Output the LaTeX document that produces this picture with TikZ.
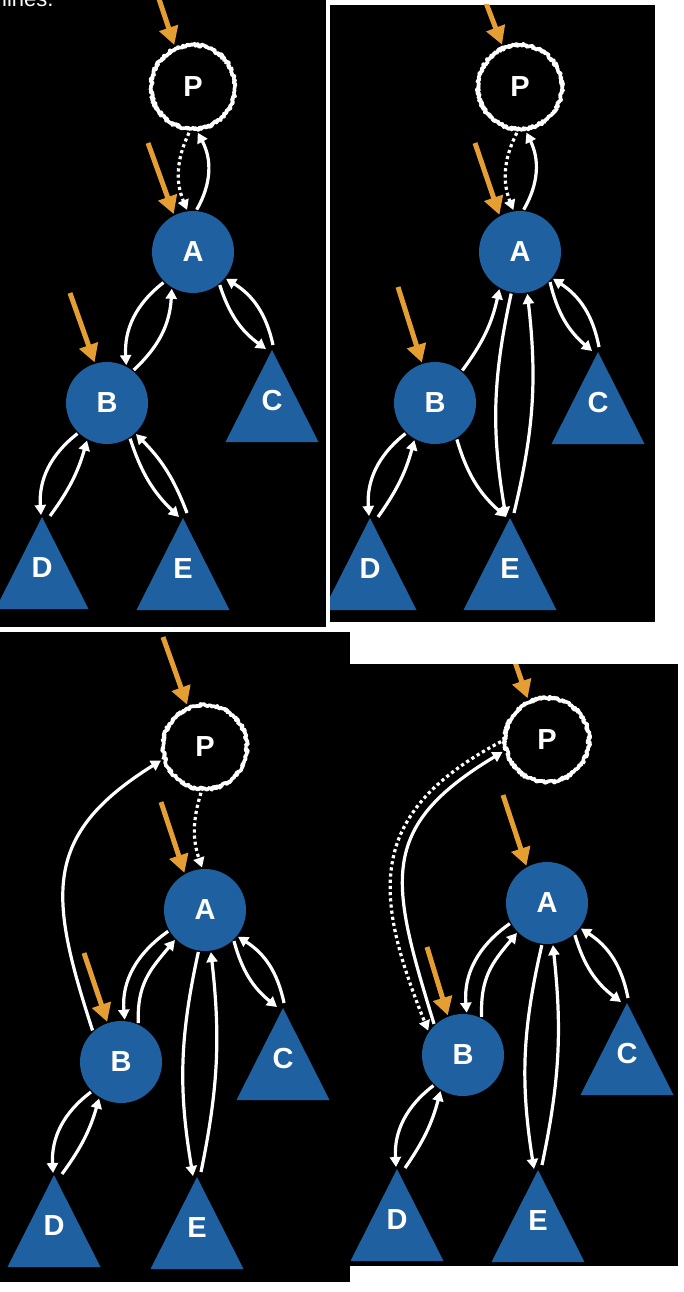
\documentclass[tikz,border=0pt]{standalone}
\usepackage{fontspec}
\usetikzlibrary{arrows.meta,decorations.pathmorphing}
\newfontfamily\labelsans{Liberation Sans}
\definecolor{nodeblue}{RGB}{31,96,160}
\definecolor{pointerorange}{RGB}{228,158,50}
% subtree triangle: name, apex x, apex y (downwards), label,
% entry point offset (dx,dy) and exit point offset (dx,dy) from the apex
\newcommand\treetri[8]{%
  \fill[nodeblue] (#2,-#3) -- ++(-46.5,-92) -- ++(93,0) -- cycle;
  \coordinate (#1in) at ({#2+(#5)},{-#3+(#6)});
  \coordinate (#1out) at ({#2+(#7)},{-#3+(#8)});
  \node[lbl] (#1) at (#2,{-#3-51}) {#4};
}
\begin{document}
\begin{tikzpicture}[x=1pt,y=1pt,
  labelfont/.style={font=\labelsans\bfseries\fontsize{29}{29}\selectfont},
  blueball/.style={circle, fill=nodeblue, minimum size=82pt, inner sep=0pt,
    outer sep=1.5pt, text=white, labelfont},
  pnode/.style={circle, minimum size=84pt, inner sep=0pt, outer sep=4pt,
    text=white, labelfont},
  roughring/.style={draw=white, line width=3.6pt, line join=round,
    decorate, decoration={random steps, segment length=1pt, amplitude=1.4pt}},
  lbl/.style={text=white, inner sep=0pt, labelfont},
  caption/.style={text=white, inner sep=0pt, font=\labelsans\fontsize{22}{22}\selectfont},
  link/.style={draw=white, line width=3.2pt, -{Triangle[length=10pt,width=11pt]}},
  dotlink/.style={link, dash pattern=on 3.2pt off 3pt},
  pointer/.style={draw=pointerorange, line width=5pt,
    -{Triangle[length=18pt,width=19pt]}},
]
\pgfmathsetseed{7}
\useasboundingbox (0,0) rectangle (684,-1292);
\fill[white] (0,0) rectangle (684,-1292);

% ---------- first state ----------
\begin{scope}
  \clip (0,0) rectangle (326,-627);
  \fill[black] (0,0) rectangle (326,-627);
  \node[caption, anchor=base west] (note) at (2,-7) {lines.};
  \node[pnode] (P1) at (193,-87) {P};
  \draw[roughring] (P1.center) circle[radius=42];
  \node[blueball] (A1) at (193,-252) {A};
  \node[blueball] (B1) at (107,-403) {B};
  \treetri{C1}{272}{350}{C}{-6}{1}{1}{5}
  \treetri{D1}{42}{517}{D}{-1}{2}{8}{1}
  \treetri{E1}{183}{518}{E}{-4}{1}{4}{5}
  \draw[dotlink] (P1.-95) to[bend right=24] (A1.98);
  \draw[link] (A1.85) to[bend right=29] (P1.-84);
  \draw[link] (A1.-134) to[bend right=28] (B1.63);
  \draw[link] (B1.51) to[bend right=22] (A1.-120);
  \draw[link] (A1.-51) to[bend right=18] (C1in);
  \draw[link] (C1out) to[bend right=23] (A1.-39);
  \draw[link] (B1.-134) to[bend right=28] (D1in);
  \draw[link] (D1out) to[bend right=10] (B1.-118);
  \draw[link] (B1.-57) to[bend right=14] (E1in);
  \draw[link] (E1out) to[bend right=12] (B1.-47);
  \coordinate (t1P) at (156,10);
  \coordinate (t1A) at (148,-143);
  \coordinate (t1B) at (70,-293);
  \draw[pointer] (t1P) -- (P1.114);
  \draw[pointer] (t1A) -- (A1.117);
  \draw[pointer] (t1B) -- (B1.107);
\end{scope}

% ---------- second state ----------
\begin{scope}
  \clip (330,-5) rectangle (655,-622);
  \fill[black] (330,-5) rectangle (655,-622);
  \node[pnode] (P2) at (520,-87) {P};
  \draw[roughring] (P2.center) circle[radius=42];
  \node[blueball] (A2) at (520,-252) {A};
  \node[blueball] (B2) at (435,-403) {B};
  \treetri{C2}{598}{352}{C}{-6}{1}{1}{5}
  \treetri{D2}{370}{518}{D}{-1}{2}{8}{1}
  \treetri{E2}{510}{518}{E}{-4}{1}{4}{5}
  \draw[dotlink] (P2.-94) to[bend right=24] (A2.99);
  \draw[link] (A2.85) to[bend right=28] (P2.-82);
  \draw[link] (B2.50) to[bend right=12] (A2.-119);
  \draw[link] (A2.-102) to[bend right=11] (E2in);
  \draw[link] (E2out) to[bend right=10] (A2.-80);
  \draw[link] (A2.-45) to[bend right=18] (C2in);
  \draw[link] (C2out) to[bend right=23] (A2.-39);
  \draw[link] (B2.-134) to[bend right=28] (D2in);
  \draw[link] (D2out) to[bend right=10] (B2.-119);
  \draw[link] (B2.-59) to[bend right=16] (E2in);
  \coordinate (t2P) at (483,5);
  \coordinate (t2A) at (475,-143);
  \coordinate (t2B) at (398,-287);
  \draw[pointer] (t2P) -- (P2.113);
  \draw[pointer] (t2A) -- (A2.119);
  \draw[pointer] (t2B) -- (B2.108);
\end{scope}

% ---------- third state ----------
\begin{scope}
  \clip (0,-632) rectangle (350,-1282);
  \fill[black] (0,-632) rectangle (350,-1282);
  \node[pnode] (P3) at (205,-747) {P};
  \draw[roughring] (P3.center) circle[radius=42];
  \node[blueball] (A3) at (205,-910) {A};
  \node[blueball] (B3) at (121,-1062) {B};
  \treetri{C3}{283}{1008}{C}{-6}{1}{1}{5}
  \treetri{D3}{54}{1175}{D}{-1}{2}{8}{1}
  \treetri{E3}{197}{1177}{E}{-4}{1}{4}{5}
  \draw[dotlink] (P3.-95) to[bend right=18] (A3.94);
  \draw[link] (B3.132) to[out=108, in=-148, looseness=1.3] (P3.-163);
  \draw[link] (A3.-150) to[out=-145, in=95] (B3.85);
  \draw[link] (B3.66) to[out=92, in=-130, looseness=1.1] (A3.-135);
  \draw[link] (A3.-99) to[bend right=11] (E3in);
  \draw[link] (E3out) to[bend right=9] (A3.-82);
  \draw[link] (A3.-47) to[bend right=18] (C3in);
  \draw[link] (C3out) to[bend right=23] (A3.-39);
  \draw[link] (B3.-135) to[bend right=28] (D3in);
  \draw[link] (D3out) to[bend right=10] (B3.-121);
  \coordinate (t3P) at (163,-637);
  \coordinate (t3A) at (161,-802);
  \coordinate (t3B) at (84,-953);
  \draw[pointer] (t3P) -- (P3.113);
  \draw[pointer] (t3A) -- (A3.119);
  \draw[pointer] (t3B) -- (B3.109);
\end{scope}

% ---------- fourth state ----------
\begin{scope}
  \clip (350,-664) rectangle (678,-1266);
  \fill[black] (350,-664) rectangle (678,-1266);
  \node[pnode] (P4) at (547,-740) {P};
  \draw[roughring] (P4.center) circle[radius=42];
  \node[blueball] (A4) at (547,-903) {A};
  \node[blueball] (B4) at (463,-1055) {B};
  \treetri{C4}{627}{1003}{C}{-6}{1}{1}{5}
  \treetri{D4}{397}{1169}{D}{-1}{2}{8}{1}
  \treetri{E4}{538}{1170}{E}{-4}{1}{4}{5}
  \draw[link] (B4.133) to[out=107, in=-149, looseness=1.35] (P4.-165);
  \draw[dotlink] (P4.-178) to[out=-152, in=112, looseness=1.3] (B4.145);
  \draw[link] (A4.-151) to[out=-145, in=95] (B4.85);
  \draw[link] (B4.64) to[out=92, in=-130, looseness=1.1] (A4.-135);
  \draw[link] (A4.-97) to[bend right=11] (E4in);
  \draw[link] (E4out) to[bend right=9] (A4.-82);
  \draw[link] (A4.-49) to[bend right=18] (C4in);
  \draw[link] (C4out) to[bend right=23] (A4.-37);
  \draw[link] (B4.-134) to[bend right=28] (D4in);
  \draw[link] (D4out) to[bend right=10] (B4.-122);
  \coordinate (t4P) at (504,-630);
  \coordinate (t4A) at (503,-795);
  \coordinate (t4B) at (427,-947);
  \draw[pointer] (t4P) -- (P4.115);
  \draw[pointer] (t4A) -- (A4.119);
  \draw[pointer] (t4B) -- (B4.111);
\end{scope}
\end{tikzpicture}
\end{document}
